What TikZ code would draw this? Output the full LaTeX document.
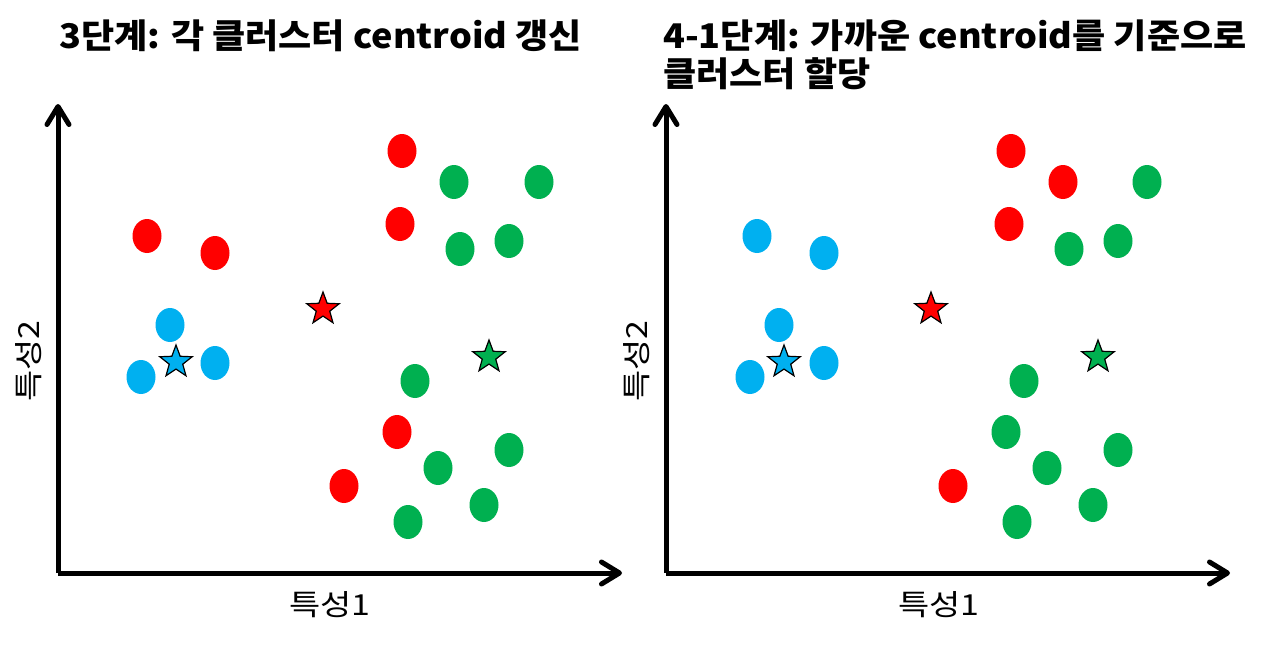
\documentclass[tikz,border=0pt]{standalone}
\usepackage{fontspec}
\setmainfont{Noto Sans CJK KR}
\usetikzlibrary{shapes.geometric,arrows.meta}
\definecolor{cred}{HTML}{FF0000}
\definecolor{cgreen}{HTML}{00B050}
\definecolor{cblue}{HTML}{00B0F0}
\newcommand{\wide}[2]{\scalebox{#1}[1]{#2}}
\tikzset{
  dot/.style={ellipse, inner sep=0pt, minimum width=29pt, minimum height=34pt, draw=none},
  rdot/.style={dot, fill=cred},
  gdot/.style={dot, fill=cgreen},
  bdot/.style={dot, fill=cblue},
  cstar/.style={star, star points=5, star point ratio=2.4, minimum size=34pt, inner sep=0pt, draw=black, line width=1.2pt},
  axis/.style={line width=5pt, -{Straight Barb[length=18pt, width=22pt, line width=5pt, line cap=round, line join=round]}},
  ttl/.style={font=\bfseries\fontsize{34}{38.5}\selectfont, anchor=west, align=left, inner sep=0pt},
  alab/.style={font=\fontsize{29}{30}\selectfont, inner sep=0pt},
}
\begin{document}
\begin{tikzpicture}[x=1pt, y=-1pt]
\useasboundingbox (0,0) rectangle (1280,645);
% ---------- left panel ----------
\node[ttl] (t1) at (59,36) {\wide{1.06}{3단계: 각 클러스터 centroid 갱신}};
\coordinate (o1) at (58,573);
\coordinate (y1) at (58,104);
\coordinate (x1) at (622,573);
\draw[axis] (o1) -- (y1);
\draw[axis] (o1) -- (x1);
\node[alab] (xl1) at (330,605) {\wide{1.17}{특성1}};
\node[alab, rotate=90] (yl1) at (29,361) {\wide{1.17}{특성2}};
\node[rdot] (a1) at (402,151) {};
\node[rdot] (a2) at (400,224) {};
\node[rdot] (a3) at (147,236) {};
\node[rdot] (a4) at (215,253) {};
\node[rdot] (a5) at (397,432) {};
\node[rdot] (a6) at (344,486) {};
\node[gdot] (a7) at (454,182) {};
\node[gdot] (a8) at (539,182) {};
\node[gdot] (a9) at (460,249) {};
\node[gdot] (a10) at (509,241) {};
\node[gdot] (a11) at (415,381) {};
\node[gdot] (a12) at (509,450) {};
\node[gdot] (a13) at (438,468) {};
\node[gdot] (a14) at (484,505) {};
\node[gdot] (a15) at (408,522) {};
\node[bdot] (a16) at (170,325) {};
\node[bdot] (a17) at (141,377) {};
\node[bdot] (a18) at (215,363) {};
\node[cstar, fill=cred] (s1) at (323,309) {};
\node[cstar, fill=cblue] (s2) at (176,362) {};
\node[cstar, fill=cgreen] (s3) at (489,357) {};
% ---------- right panel ----------
\node[ttl] (t2) at (663,55) {\wide{1.06}{4-1단계: 가까운 centroid를 기준으로}\\\wide{1.06}{클러스터 할당}};
\coordinate (o2) at (666,573);
\coordinate (y2) at (666,104);
\coordinate (x2) at (1230,573);
\draw[axis] (o2) -- (y2);
\draw[axis] (o2) -- (x2);
\node[alab] (xl2) at (939,605) {\wide{1.17}{특성1}};
\node[alab, rotate=90] (yl2) at (637,361) {\wide{1.17}{특성2}};
\node[rdot] (b1) at (1011,151) {};
\node[rdot] (b2) at (1063,182) {};
\node[rdot] (b3) at (1009,224) {};
\node[rdot] (b4) at (953,486) {};
\node[gdot] (b5) at (1147,182) {};
\node[gdot] (b6) at (1069,249) {};
\node[gdot] (b7) at (1118,241) {};
\node[gdot] (b8) at (1024,381) {};
\node[gdot] (b9) at (1006,432) {};
\node[gdot] (b10) at (1118,450) {};
\node[gdot] (b11) at (1047,468) {};
\node[gdot] (b12) at (1093,505) {};
\node[gdot] (b13) at (1017,522) {};
\node[bdot] (b14) at (757,236) {};
\node[bdot] (b15) at (824,253) {};
\node[bdot] (b16) at (779,325) {};
\node[bdot] (b17) at (750,377) {};
\node[bdot] (b18) at (824,363) {};
\node[cstar, fill=cred] (s4) at (931,309) {};
\node[cstar, fill=cblue] (s5) at (784,362) {};
\node[cstar, fill=cgreen] (s6) at (1098,357) {};
\end{tikzpicture}
\end{document}
